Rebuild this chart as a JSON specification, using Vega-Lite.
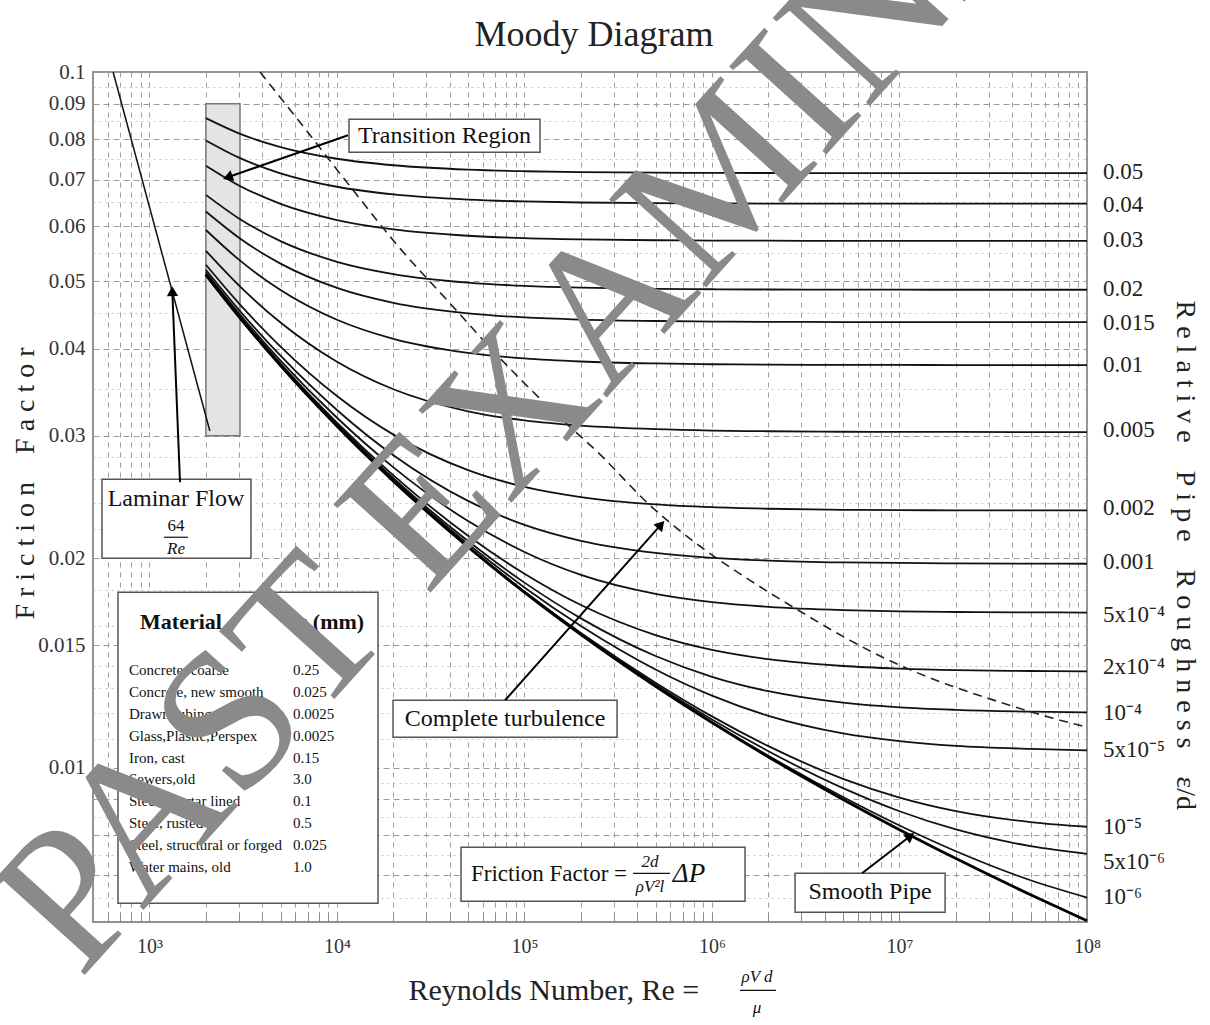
{
  "$schema": "https://vega.github.io/schema/vega-lite/v6.json",
  "width": 994,
  "height": 850,
  "autosize": {"type": "none"},
  "padding": {"left": 93, "top": 72, "right": 123, "bottom": 103},
  "background": "white",
  "config": {
    "view": {"stroke": "#707070", "strokeWidth": 1.5},
    "font": "Liberation Serif",
    "text": {"font": "Liberation Serif", "color": "#111"}
  },
  "datasets": {
    "tbox": [{"Re": 2000, "Re2": 3040, "f": 0.09, "f2": 0.03}],
    "boxes": [
      {"name": "transition", "Re": 11596, "Re2": 121040, "f": 0.0855, "f2": 0.07666},
      {"name": "laminar", "Re": 558.5, "Re2": 3480, "f": 0.02598, "f2": 0.02},
      {"name": "turbulence", "Re": 19908, "Re2": 311700, "f": 0.0125, "f2": 0.011058},
      {"name": "formula", "Re": 45874, "Re2": 1500800, "f": 0.007684, "f2": 0.006427},
      {"name": "smooth", "Re": 2773300, "Re2": 17508000, "f": 0.00705, "f2": 0.006197},
      {"name": "material", "Re": 679.6, "Re2": 16557, "f": 0.017873, "f2": 0.006385}
    ],
    "curves": [
      {"e": "0.05", "Re": 2000, "f": 0.08583}, {"e": "0.05", "Re": 3000, "f": 0.08161}, {"e": "0.05", "Re": 5000, "f": 0.07799}, {"e": "0.05", "Re": 10000, "f": 0.07504}, {"e": "0.05", "Re": 20000, "f": 0.07344}, {"e": "0.05", "Re": 50000, "f": 0.07238}, {"e": "0.05", "Re": 100000, "f": 0.072}, {"e": "0.05", "Re": 200000, "f": 0.07179}, {"e": "0.05", "Re": 500000, "f": 0.07166}, {"e": "0.05", "Re": 1000000, "f": 0.07161}, {"e": "0.05", "Re": 2000000, "f": 0.07158}, {"e": "0.05", "Re": 5000000, "f": 0.07156}, {"e": "0.05", "Re": 10000000, "f": 0.07156}, {"e": "0.05", "Re": 20000000, "f": 0.07155}, {"e": "0.05", "Re": 50000000, "f": 0.07155}, {"e": "0.05", "Re": 100000000, "f": 0.07155},
      {"e": "0.04", "Re": 2000, "f": 0.07972}, {"e": "0.04", "Re": 3000, "f": 0.07532}, {"e": "0.04", "Re": 5000, "f": 0.07152}, {"e": "0.04", "Re": 10000, "f": 0.0684}, {"e": "0.04", "Re": 20000, "f": 0.06669}, {"e": "0.04", "Re": 50000, "f": 0.06556}, {"e": "0.04", "Re": 100000, "f": 0.06515}, {"e": "0.04", "Re": 200000, "f": 0.06493}, {"e": "0.04", "Re": 500000, "f": 0.06478}, {"e": "0.04", "Re": 1000000, "f": 0.06473}, {"e": "0.04", "Re": 2000000, "f": 0.0647}, {"e": "0.04", "Re": 5000000, "f": 0.06469}, {"e": "0.04", "Re": 10000000, "f": 0.06468}, {"e": "0.04", "Re": 20000000, "f": 0.06468}, {"e": "0.04", "Re": 50000000, "f": 0.06467}, {"e": "0.04", "Re": 100000000, "f": 0.06467},
      {"e": "0.03", "Re": 2000, "f": 0.07334}, {"e": "0.03", "Re": 3000, "f": 0.0687}, {"e": "0.03", "Re": 5000, "f": 0.06464}, {"e": "0.03", "Re": 10000, "f": 0.06127}, {"e": "0.03", "Re": 20000, "f": 0.0594}, {"e": "0.03", "Re": 50000, "f": 0.05816}, {"e": "0.03", "Re": 100000, "f": 0.0577}, {"e": "0.03", "Re": 200000, "f": 0.05746}, {"e": "0.03", "Re": 500000, "f": 0.0573}, {"e": "0.03", "Re": 1000000, "f": 0.05724}, {"e": "0.03", "Re": 2000000, "f": 0.05721}, {"e": "0.03", "Re": 5000000, "f": 0.05719}, {"e": "0.03", "Re": 10000000, "f": 0.05718}, {"e": "0.03", "Re": 20000000, "f": 0.05718}, {"e": "0.03", "Re": 50000000, "f": 0.05718}, {"e": "0.03", "Re": 100000000, "f": 0.05718},
      {"e": "0.02", "Re": 2000, "f": 0.06658}, {"e": "0.02", "Re": 3000, "f": 0.06159}, {"e": "0.02", "Re": 5000, "f": 0.05714}, {"e": "0.02", "Re": 10000, "f": 0.05336}, {"e": "0.02", "Re": 20000, "f": 0.05123}, {"e": "0.02", "Re": 50000, "f": 0.04979}, {"e": "0.02", "Re": 100000, "f": 0.04926}, {"e": "0.02", "Re": 200000, "f": 0.04897}, {"e": "0.02", "Re": 500000, "f": 0.04878}, {"e": "0.02", "Re": 1000000, "f": 0.04872}, {"e": "0.02", "Re": 2000000, "f": 0.04868}, {"e": "0.02", "Re": 5000000, "f": 0.04866}, {"e": "0.02", "Re": 10000000, "f": 0.04865}, {"e": "0.02", "Re": 20000000, "f": 0.04864}, {"e": "0.02", "Re": 50000000, "f": 0.04864}, {"e": "0.02", "Re": 100000000, "f": 0.04864},
      {"e": "0.015", "Re": 2000, "f": 0.06301}, {"e": "0.015", "Re": 3000, "f": 0.05778}, {"e": "0.015", "Re": 5000, "f": 0.05304}, {"e": "0.015", "Re": 10000, "f": 0.04895}, {"e": "0.015", "Re": 20000, "f": 0.04659}, {"e": "0.015", "Re": 50000, "f": 0.04499}, {"e": "0.015", "Re": 100000, "f": 0.04439}, {"e": "0.015", "Re": 200000, "f": 0.04407}, {"e": "0.015", "Re": 500000, "f": 0.04386}, {"e": "0.015", "Re": 1000000, "f": 0.04378}, {"e": "0.015", "Re": 2000000, "f": 0.04374}, {"e": "0.015", "Re": 5000000, "f": 0.04371}, {"e": "0.015", "Re": 10000000, "f": 0.0437}, {"e": "0.015", "Re": 20000000, "f": 0.0437}, {"e": "0.015", "Re": 50000000, "f": 0.04369}, {"e": "0.015", "Re": 100000000, "f": 0.04369},
      {"e": "0.01", "Re": 2000, "f": 0.05928}, {"e": "0.01", "Re": 3000, "f": 0.05373}, {"e": "0.01", "Re": 5000, "f": 0.0486}, {"e": "0.01", "Re": 10000, "f": 0.04404}, {"e": "0.01", "Re": 20000, "f": 0.04134}, {"e": "0.01", "Re": 50000, "f": 0.03946}, {"e": "0.01", "Re": 100000, "f": 0.03875}, {"e": "0.01", "Re": 200000, "f": 0.03836}, {"e": "0.01", "Re": 500000, "f": 0.03811}, {"e": "0.01", "Re": 1000000, "f": 0.03801}, {"e": "0.01", "Re": 2000000, "f": 0.03796}, {"e": "0.01", "Re": 5000000, "f": 0.03793}, {"e": "0.01", "Re": 10000000, "f": 0.03792}, {"e": "0.01", "Re": 20000000, "f": 0.03791}, {"e": "0.01", "Re": 50000000, "f": 0.03791}, {"e": "0.01", "Re": 100000000, "f": 0.03791},
      {"e": "0.005", "Re": 2000, "f": 0.05533}, {"e": "0.005", "Re": 3000, "f": 0.04935}, {"e": "0.005", "Re": 5000, "f": 0.04364}, {"e": "0.005", "Re": 10000, "f": 0.03833}, {"e": "0.005", "Re": 20000, "f": 0.03499}, {"e": "0.005", "Re": 50000, "f": 0.03253}, {"e": "0.005", "Re": 100000, "f": 0.03156}, {"e": "0.005", "Re": 200000, "f": 0.03102}, {"e": "0.005", "Re": 500000, "f": 0.03066}, {"e": "0.005", "Re": 1000000, "f": 0.03052}, {"e": "0.005", "Re": 2000000, "f": 0.03045}, {"e": "0.005", "Re": 5000000, "f": 0.0304}, {"e": "0.005", "Re": 10000000, "f": 0.03039}, {"e": "0.005", "Re": 20000000, "f": 0.03038}, {"e": "0.005", "Re": 50000000, "f": 0.03037}, {"e": "0.005", "Re": 100000000, "f": 0.03037},
      {"e": "0.002", "Re": 2000, "f": 0.05283}, {"e": "0.002", "Re": 3000, "f": 0.0465}, {"e": "0.002", "Re": 5000, "f": 0.0403}, {"e": "0.002", "Re": 10000, "f": 0.03422}, {"e": "0.002", "Re": 20000, "f": 0.03011}, {"e": "0.002", "Re": 50000, "f": 0.02677}, {"e": "0.002", "Re": 100000, "f": 0.02533}, {"e": "0.002", "Re": 200000, "f": 0.02449}, {"e": "0.002", "Re": 500000, "f": 0.0239}, {"e": "0.002", "Re": 1000000, "f": 0.02368}, {"e": "0.002", "Re": 2000000, "f": 0.02356}, {"e": "0.002", "Re": 5000000, "f": 0.02348}, {"e": "0.002", "Re": 10000000, "f": 0.02345}, {"e": "0.002", "Re": 20000000, "f": 0.02344}, {"e": "0.002", "Re": 50000000, "f": 0.02343}, {"e": "0.002", "Re": 100000000, "f": 0.02343},
      {"e": "0.001", "Re": 2000, "f": 0.05197}, {"e": "0.001", "Re": 3000, "f": 0.04551}, {"e": "0.001", "Re": 5000, "f": 0.0391}, {"e": "0.001", "Re": 10000, "f": 0.03267}, {"e": "0.001", "Re": 20000, "f": 0.02812}, {"e": "0.001", "Re": 50000, "f": 0.02418}, {"e": "0.001", "Re": 100000, "f": 0.02234}, {"e": "0.001", "Re": 200000, "f": 0.02119}, {"e": "0.001", "Re": 500000, "f": 0.02036}, {"e": "0.001", "Re": 1000000, "f": 0.02003}, {"e": "0.001", "Re": 2000000, "f": 0.01985}, {"e": "0.001", "Re": 5000000, "f": 0.01973}, {"e": "0.001", "Re": 10000000, "f": 0.01969}, {"e": "0.001", "Re": 20000000, "f": 0.01966}, {"e": "0.001", "Re": 50000000, "f": 0.01965}, {"e": "0.001", "Re": 100000000, "f": 0.01964},
      {"e": "5e-4", "Re": 2000, "f": 0.05153}, {"e": "5e-4", "Re": 3000, "f": 0.045}, {"e": "5e-4", "Re": 5000, "f": 0.03848}, {"e": "5e-4", "Re": 10000, "f": 0.03184}, {"e": "5e-4", "Re": 20000, "f": 0.02702}, {"e": "5e-4", "Re": 50000, "f": 0.02262}, {"e": "5e-4", "Re": 100000, "f": 0.02042}, {"e": "5e-4", "Re": 200000, "f": 0.01893}, {"e": "5e-4", "Re": 500000, "f": 0.01778}, {"e": "5e-4", "Re": 1000000, "f": 0.0173}, {"e": "5e-4", "Re": 2000000, "f": 0.01703}, {"e": "5e-4", "Re": 5000000, "f": 0.01685}, {"e": "5e-4", "Re": 10000000, "f": 0.01678}, {"e": "5e-4", "Re": 20000000, "f": 0.01674}, {"e": "5e-4", "Re": 50000000, "f": 0.01672}, {"e": "5e-4", "Re": 100000000, "f": 0.01671},
      {"e": "2e-4", "Re": 2000, "f": 0.05127}, {"e": "2e-4", "Re": 3000, "f": 0.0447}, {"e": "2e-4", "Re": 5000, "f": 0.0381}, {"e": "2e-4", "Re": 10000, "f": 0.03132}, {"e": "2e-4", "Re": 20000, "f": 0.02631}, {"e": "2e-4", "Re": 50000, "f": 0.02155}, {"e": "2e-4", "Re": 100000, "f": 0.019}, {"e": "2e-4", "Re": 200000, "f": 0.01713}, {"e": "2e-4", "Re": 500000, "f": 0.01551}, {"e": "2e-4", "Re": 1000000, "f": 0.01477}, {"e": "2e-4", "Re": 2000000, "f": 0.01432}, {"e": "2e-4", "Re": 5000000, "f": 0.014}, {"e": "2e-4", "Re": 10000000, "f": 0.01388}, {"e": "2e-4", "Re": 20000000, "f": 0.01381}, {"e": "2e-4", "Re": 50000000, "f": 0.01377}, {"e": "2e-4", "Re": 100000000, "f": 0.01375},
      {"e": "1e-4", "Re": 2000, "f": 0.05118}, {"e": "1e-4", "Re": 3000, "f": 0.04459}, {"e": "1e-4", "Re": 5000, "f": 0.03797}, {"e": "1e-4", "Re": 10000, "f": 0.03115}, {"e": "1e-4", "Re": 20000, "f": 0.02606}, {"e": "1e-4", "Re": 50000, "f": 0.02117}, {"e": "1e-4", "Re": 100000, "f": 0.01845}, {"e": "1e-4", "Re": 200000, "f": 0.01639}, {"e": "1e-4", "Re": 500000, "f": 0.01447}, {"e": "1e-4", "Re": 1000000, "f": 0.01351}, {"e": "1e-4", "Re": 2000000, "f": 0.01288}, {"e": "1e-4", "Re": 5000000, "f": 0.0124}, {"e": "1e-4", "Re": 10000000, "f": 0.01221}, {"e": "1e-4", "Re": 20000000, "f": 0.01211}, {"e": "1e-4", "Re": 50000000, "f": 0.01204}, {"e": "1e-4", "Re": 100000000, "f": 0.01201},
      {"e": "5e-5", "Re": 2000, "f": 0.05114}, {"e": "5e-5", "Re": 3000, "f": 0.04454}, {"e": "5e-5", "Re": 5000, "f": 0.03791}, {"e": "5e-5", "Re": 10000, "f": 0.03106}, {"e": "5e-5", "Re": 20000, "f": 0.02594}, {"e": "5e-5", "Re": 50000, "f": 0.02097}, {"e": "5e-5", "Re": 100000, "f": 0.01816}, {"e": "5e-5", "Re": 200000, "f": 0.01598}, {"e": "5e-5", "Re": 500000, "f": 0.01384}, {"e": "5e-5", "Re": 1000000, "f": 0.01269}, {"e": "5e-5", "Re": 2000000, "f": 0.01187}, {"e": "5e-5", "Re": 5000000, "f": 0.0112}, {"e": "5e-5", "Re": 10000000, "f": 0.01092}, {"e": "5e-5", "Re": 20000000, "f": 0.01075}, {"e": "5e-5", "Re": 50000000, "f": 0.01064}, {"e": "5e-5", "Re": 100000000, "f": 0.01059},
      {"e": "1e-5", "Re": 2000, "f": 0.0511}, {"e": "1e-5", "Re": 3000, "f": 0.0445}, {"e": "1e-5", "Re": 5000, "f": 0.03786}, {"e": "1e-5", "Re": 10000, "f": 0.03099}, {"e": "1e-5", "Re": 20000, "f": 0.02584}, {"e": "1e-5", "Re": 50000, "f": 0.0208}, {"e": "1e-5", "Re": 100000, "f": 0.01792}, {"e": "1e-5", "Re": 200000, "f": 0.01562}, {"e": "1e-5", "Re": 500000, "f": 0.01325}, {"e": "1e-5", "Re": 1000000, "f": 0.01185}, {"e": "1e-5", "Re": 2000000, "f": 0.01074}, {"e": "1e-5", "Re": 5000000, "f": 0.009638}, {"e": "1e-5", "Re": 10000000, "f": 0.009059}, {"e": "1e-5", "Re": 20000000, "f": 0.008662}, {"e": "1e-5", "Re": 50000000, "f": 0.008352}, {"e": "1e-5", "Re": 100000000, "f": 0.008224},
      {"e": "5e-6", "Re": 2000, "f": 0.0511}, {"e": "5e-6", "Re": 3000, "f": 0.0445}, {"e": "5e-6", "Re": 5000, "f": 0.03785}, {"e": "5e-6", "Re": 10000, "f": 0.03098}, {"e": "5e-6", "Re": 20000, "f": 0.02583}, {"e": "5e-6", "Re": 50000, "f": 0.02078}, {"e": "5e-6", "Re": 100000, "f": 0.01789}, {"e": "5e-6", "Re": 200000, "f": 0.01558}, {"e": "5e-6", "Re": 500000, "f": 0.01317}, {"e": "5e-6", "Re": 1000000, "f": 0.01173}, {"e": "5e-6", "Re": 2000000, "f": 0.01056}, {"e": "5e-6", "Re": 5000000, "f": 0.009344}, {"e": "5e-6", "Re": 10000000, "f": 0.008657}, {"e": "5e-6", "Re": 20000000, "f": 0.00815}, {"e": "5e-6", "Re": 50000000, "f": 0.007713}, {"e": "5e-6", "Re": 100000000, "f": 0.007519},
      {"e": "1e-6", "Re": 2000, "f": 0.05109}, {"e": "1e-6", "Re": 3000, "f": 0.04449}, {"e": "1e-6", "Re": 5000, "f": 0.03785}, {"e": "1e-6", "Re": 10000, "f": 0.03097}, {"e": "1e-6", "Re": 20000, "f": 0.02582}, {"e": "1e-6", "Re": 50000, "f": 0.02077}, {"e": "1e-6", "Re": 100000, "f": 0.01787}, {"e": "1e-6", "Re": 200000, "f": 0.01554}, {"e": "1e-6", "Re": 500000, "f": 0.01311}, {"e": "1e-6", "Re": 1000000, "f": 0.01163}, {"e": "1e-6", "Re": 2000000, "f": 0.0104}, {"e": "1e-6", "Re": 5000000, "f": 0.009074}, {"e": "1e-6", "Re": 10000000, "f": 0.008258}, {"e": "1e-6", "Re": 20000000, "f": 0.007583}, {"e": "1e-6", "Re": 50000000, "f": 0.006889}, {"e": "1e-6", "Re": 100000000, "f": 0.006506}
    ],
    "smooth": [
      {"Re": 2000, "f": 0.05109}, {"Re": 3000, "f": 0.04449}, {"Re": 5000, "f": 0.03785}, {"Re": 10000, "f": 0.03097}, {"Re": 20000, "f": 0.02581}, {"Re": 50000, "f": 0.02076}, {"Re": 100000, "f": 0.01786}, {"Re": 200000, "f": 0.01553}, {"Re": 500000, "f": 0.01309}, {"Re": 1000000, "f": 0.01161}, {"Re": 2000000, "f": 0.01036}, {"Re": 5000000, "f": 0.009001}, {"Re": 10000000, "f": 0.008142}, {"Re": 20000000, "f": 0.007401}, {"Re": 50000000, "f": 0.006567}, {"Re": 100000000, "f": 0.006026}
    ],
    "laminar": [{"Re": 640, "f": 0.1}, {"Re": 2100, "f": 0.030476}],
    "turb": [
      {"Re": 3887, "f": 0.1}, {"Re": 6354, "f": 0.08466}, {"Re": 11740, "f": 0.06851}, {"Re": 21690, "f": 0.05578}, {"Re": 40090, "f": 0.0465}, {"Re": 74070, "f": 0.03877}, {"Re": 136900, "f": 0.03284}, {"Re": 252900, "f": 0.0282}, {"Re": 467300, "f": 0.02383}, {"Re": 863600, "f": 0.02081}, {"Re": 1595700, "f": 0.01859}, {"Re": 2949000, "f": 0.01678}, {"Re": 5449000, "f": 0.01524}, {"Re": 10068700, "f": 0.01403}, {"Re": 18607000, "f": 0.01313}, {"Re": 34390000, "f": 0.01242}, {"Re": 63540000, "f": 0.01181}, {"Re": 100000000, "f": 0.01143}
    ],
    "arrows": [
      {"id": "transition", "Re": 11455, "f": 0.0811}, {"id": "transition", "Re": 2615, "f": 0.07058},
      {"id": "laminar", "Re": 1455.6, "f": 0.025723}, {"id": "laminar", "Re": 1324.3, "f": 0.048406},
      {"id": "turbulence", "Re": 78780, "f": 0.0125}, {"id": "turbulence", "Re": 534900, "f": 0.022349},
      {"id": "smooth", "Re": 6315000, "f": 0.00705}, {"id": "smooth", "Re": 11428000, "f": 0.007975}
    ],
    "notes": [
      {"label": "Transition Region", "Re": 37470, "f": 0.08096},
      {"label": "Laminar Flow", "Re": 1385.6, "f": 0.0243},
      {"label": "Complete turbulence", "Re": 78780, "f": 0.011757},
      {"label": "Smooth Pipe", "Re": 6966000, "f": 0.006622}
    ],
    "fracs": [
      {"label": "2d", "Re": 467300, "f": 0.007311},
      {"label": "ρV²l", "Re": 467300, "f": 0.006732},
      {"label": "ρV d", "Re": 1739300, "f": 0.004995},
      {"label": "μ", "Re": 1739300, "f": 0.004509},
      {"label": "Re", "Re": 1385.6, "f": 0.02061}
    ],
    "bars": [
      {"Re": 1195.8, "Re2": 1605.6, "f": 0.02144},
      {"Re": 379300, "Re2": 597300, "f": 0.00705},
      {"Re": 1411200, "Re2": 2196300, "f": 0.004786}
    ],
    "thead": [
      {"label": "Material", "Re": 1473.6, "f": 0.016181},
      {"label": "ε (mm)", "Re": 9297, "f": 0.016181}
    ],
    "matnames": [
      {"label": "Concrete, coarse", "Re": 778.1, "f": 0.013804},
      {"label": "Concrete, new smooth", "Re": 778.1, "f": 0.012836},
      {"label": "Drawn tubing", "Re": 778.1, "f": 0.011934},
      {"label": "Glass,Plastic,Perspex", "Re": 778.1, "f": 0.011096},
      {"label": "Iron, cast", "Re": 778.1, "f": 0.010316},
      {"label": "Sewers,old", "Re": 778.1, "f": 0.009623},
      {"label": "Steel, mortar lined", "Re": 778.1, "f": 0.008947},
      {"label": "Steel, rusted", "Re": 778.1, "f": 0.008318},
      {"label": "Steel, structural or forged", "Re": 778.1, "f": 0.007735},
      {"label": "Water mains, old", "Re": 778.1, "f": 0.007192}
    ],
    "matvals": [
      {"label": "0.25", "Re": 5831, "f": 0.013804},
      {"label": "0.025", "Re": 5831, "f": 0.012836},
      {"label": "0.0025", "Re": 5831, "f": 0.011934},
      {"label": "0.0025", "Re": 5831, "f": 0.011096},
      {"label": "0.15", "Re": 5831, "f": 0.010316},
      {"label": "3.0", "Re": 5831, "f": 0.009623},
      {"label": "0.1", "Re": 5831, "f": 0.008947},
      {"label": "0.5", "Re": 5831, "f": 0.008318},
      {"label": "0.025", "Re": 5831, "f": 0.007735},
      {"label": "1.0", "Re": 5831, "f": 0.007192}
    ],
    "rlabels": [
      {"label": "0.05", "Re": 100000000, "f": 0.071758}, {"label": "0.04", "Re": 100000000, "f": 0.064337}, {"label": "0.03", "Re": 100000000, "f": 0.057289}, {"label": "0.02", "Re": 100000000, "f": 0.048725}, {"label": "0.015", "Re": 100000000, "f": 0.043525}, {"label": "0.01", "Re": 100000000, "f": 0.037882}, {"label": "0.005", "Re": 100000000, "f": 0.030548}, {"label": "0.002", "Re": 100000000, "f": 0.023598}, {"label": "0.001", "Re": 100000000, "f": 0.019737},
      {"label": "5x10⁻⁴", "Re": 100000000, "f": 0.01656}, {"label": "2x10⁻⁴", "Re": 100000000, "f": 0.013938}, {"label": "10⁻⁴", "Re": 100000000, "f": 0.011974}, {"label": "5x10⁻⁵", "Re": 100000000, "f": 0.010593}, {"label": "10⁻⁵", "Re": 100000000, "f": 0.008209}, {"label": "5x10⁻⁶", "Re": 100000000, "f": 0.007311}, {"label": "10⁻⁶", "Re": 100000000, "f": 0.006513}
    ]
  },
  "encoding": {
    "x": {
      "field": "Re", "type": "quantitative",
      "scale": {"type": "log", "domain": [500, 100000000], "nice": false},
      "axis": {
        "values": [600, 700, 800, 900, 1000, 2000, 3000, 4000, 5000, 6000, 7000, 8000, 9000, 10000, 20000, 30000, 40000, 50000, 60000, 70000, 80000, 90000, 100000, 200000, 300000, 400000, 500000, 600000, 700000, 800000, 900000, 1000000, 2000000, 3000000, 4000000, 5000000, 6000000, 7000000, 8000000, 9000000, 10000000, 20000000, 30000000, 40000000, 50000000, 60000000, 70000000, 80000000, 90000000, 100000000],
        "labelExpr": "datum.value==1000?'10³':datum.value==10000?'10⁴':datum.value==100000?'10⁵':datum.value==1000000?'10⁶':datum.value==10000000?'10⁷':datum.value==100000000?'10⁸':''",
        "grid": true, "gridColor": "#9e9e9e", "gridDash": [5, 5], "gridWidth": 1,
        "ticks": true, "tickSize": -10, "tickColor": "#888", "tickWidth": 1,
        "domain": false,
        "labelFont": "Liberation Serif", "labelFontSize": 20, "labelColor": "#333", "labelPadding": 24,
        "labelFlush": false, "labelOverlap": false,
        "title": "Reynolds Number, Re =", "titleFont": "Liberation Serif", "titleFontSize": 30, "titleFontWeight": "normal", "titleColor": "#222",
        "titleX": 315, "titleY": 68, "titleAlign": "left", "titleBaseline": "middle"
      }
    },
    "y": {
      "field": "f", "type": "quantitative",
      "scale": {"type": "log", "domain": [0.006, 0.1], "nice": false},
      "axis": {
        "values": [0.1, 0.095, 0.09, 0.085, 0.08, 0.075, 0.07, 0.065, 0.06, 0.055, 0.05, 0.045, 0.04, 0.035, 0.03, 0.028, 0.026, 0.024, 0.022, 0.02, 0.018, 0.016, 0.015, 0.014, 0.013, 0.012, 0.011, 0.01, 0.0095, 0.009, 0.0085, 0.008, 0.0075, 0.007, 0.0065],
        "labelExpr": "indexof([0.1,0.09,0.08,0.07,0.06,0.05,0.04,0.03,0.02,0.015,0.01], datum.value) >= 0 ? format(datum.value, '.3~f') : ''",
        "grid": true,
        "gridColor": {"condition": {"test": "indexof([0.1,0.09,0.08,0.07,0.06,0.05,0.04,0.03,0.02,0.015,0.01,0.009,0.008,0.007], datum.value) < 0", "value": "#c6c6c6"}, "value": "#9a9a9a"},
        "gridDash": {"condition": {"test": "indexof([0.1,0.09,0.08,0.07,0.06,0.05,0.04,0.03,0.02,0.015,0.01,0.009,0.008,0.007], datum.value) < 0", "value": [2, 4]}, "value": [6, 4]},
        "gridWidth": 1.1,
        "domain": false, "ticks": false,
        "labelFont": "Liberation Serif", "labelFontSize": 21, "labelColor": "#333", "labelPadding": 8,
        "labelFlush": false, "labelOverlap": false,
        "title": "F\u2005r\u2005i\u2005c\u2005t\u2005i\u2005o\u2005n\u2003F\u2005a\u2005c\u2005t\u2005o\u2005r",
        "titleFont": "Liberation Serif", "titleFontSize": 28, "titleFontWeight": "normal", "titleColor": "#222",
        "titleX": -68, "titleY": 411, "titleAlign": "center", "titleBaseline": "middle", "titleAngle": 270
      }
    }
  },
  "layer": [
    {"data": {"name": "boxes"}, "mark": {"type": "rect", "fill": "white", "stroke": "#555", "strokeWidth": 1.5},
     "encoding": {"x2": {"field": "Re2"}, "y2": {"field": "f2"}}},
    {"data": {"name": "tbox"}, "mark": {"type": "rect", "fill": "#e4e4e4", "stroke": "#777", "strokeWidth": 1.5},
     "encoding": {"x2": {"field": "Re2"}, "y2": {"field": "f2"}}},
    {"data": {"name": "curves"}, "mark": {"type": "line", "stroke": "#111", "strokeWidth": 1.8, "interpolate": "monotone"},
     "encoding": {"detail": {"field": "e"}}},
    {"data": {"name": "smooth"}, "mark": {"type": "line", "stroke": "#000", "strokeWidth": 2.8, "interpolate": "monotone"}},
    {"data": {"name": "laminar"}, "mark": {"type": "line", "stroke": "#111", "strokeWidth": 1.5}},
    {"data": {"name": "turb"}, "mark": {"type": "line", "stroke": "#222", "strokeWidth": 1.6, "strokeDash": [9, 6], "interpolate": "monotone"}},
    {"data": {"name": "arrows"}, "mark": {"type": "line", "stroke": "#000", "strokeWidth": 2},
     "encoding": {"detail": {"field": "id"}}},
    {"data": {"values": [{"Re": 2615, "f": 0.07058}]}, "mark": {"type": "point", "shape": "triangle-right", "filled": true, "fill": "#000", "size": 130, "opacity": 1, "angle": 160.7}},
    {"data": {"values": [{"Re": 1324.3, "f": 0.048406}]}, "mark": {"type": "point", "shape": "triangle-right", "filled": true, "fill": "#000", "size": 130, "opacity": 1, "angle": 267.7}},
    {"data": {"values": [{"Re": 534900, "f": 0.022349}]}, "mark": {"type": "point", "shape": "triangle-right", "filled": true, "fill": "#000", "size": 130, "opacity": 1, "angle": 311.6}},
    {"data": {"values": [{"Re": 11428000, "f": 0.007975}]}, "mark": {"type": "point", "shape": "triangle-right", "filled": true, "fill": "#000", "size": 130, "opacity": 1, "angle": 322.3}},
    {"data": {"name": "notes"}, "mark": {"type": "text", "fontSize": 24, "font": "Liberation Serif", "fill": "#111"},
     "encoding": {"text": {"field": "label"}}},
    {"data": {"values": [{"label": "Friction Factor =", "Re": 352360, "f": 0.007027}]}, "mark": {"type": "text", "fontSize": 23, "align": "right", "font": "Liberation Serif", "fill": "#111"},
     "encoding": {"text": {"field": "label"}}},
    {"data": {"values": [{"label": "ΔP", "Re": 618000, "f": 0.007027}]}, "mark": {"type": "text", "fontSize": 27, "align": "left", "font": "Liberation Serif", "fontStyle": "italic", "fill": "#111"},
     "encoding": {"text": {"field": "label"}}},
    {"data": {"values": [{"label": "64", "Re": 1385.6, "f": 0.02224}]}, "mark": {"type": "text", "fontSize": 17, "font": "Liberation Serif", "fill": "#111"},
     "encoding": {"text": {"field": "label"}}},
    {"data": {"name": "fracs"}, "mark": {"type": "text", "fontSize": 17, "font": "Liberation Serif", "fontStyle": "italic", "fill": "#111"},
     "encoding": {"text": {"field": "label"}}},
    {"data": {"name": "bars"}, "mark": {"type": "rule", "stroke": "#111", "strokeWidth": 1.2},
     "encoding": {"x2": {"field": "Re2"}}},
    {"data": {"name": "thead"}, "mark": {"type": "text", "fontSize": 22, "fontWeight": "bold", "font": "Liberation Serif", "fill": "#111"},
     "encoding": {"text": {"field": "label"}}},
    {"data": {"name": "matnames"}, "mark": {"type": "text", "fontSize": 15, "align": "left", "font": "Liberation Serif", "fill": "#111"},
     "encoding": {"text": {"field": "label"}}},
    {"data": {"name": "matvals"}, "mark": {"type": "text", "fontSize": 15, "align": "left", "font": "Liberation Serif", "fill": "#111"},
     "encoding": {"text": {"field": "label"}}},
    {"data": {"name": "rlabels"}, "mark": {"type": "text", "fontSize": 23, "align": "left", "dx": 16, "font": "Liberation Serif", "fill": "#222"},
     "encoding": {"text": {"field": "label"}}},
    {"data": {"values": [{"label": "R\u2005e\u2005l\u2005a\u2005t\u2005i\u2005v\u2005e\u2003P\u2005i\u2005p\u2005e\u2003R\u2005o\u2005u\u2005g\u2005h\u2005n\u2005e\u2005s\u2005s\u2003ε/d", "Re": 333300000, "f": 0.0202}]},
     "mark": {"type": "text", "fontSize": 28, "angle": 90, "font": "Liberation Serif", "fill": "#222"},
     "encoding": {"text": {"field": "label"}}},
    {"data": {"values": [{"label": "Moody Diagram", "Re": 234900, "f": 0.11291}]},
     "mark": {"type": "text", "fontSize": 36, "font": "Liberation Serif", "fill": "#222"},
     "encoding": {"text": {"field": "label"}}},
    {"data": {"values": [{"label": "PAST EXAMINATION", "Re": 426.2, "f": 0.004946}]},
     "mark": {"type": "text", "fontSize": 200, "angle": -47.9, "align": "left", "baseline": "alphabetic", "font": "Liberation Serif", "fill": "#8a8a8a"},
     "encoding": {"text": {"field": "label"}}}
  ]
}
